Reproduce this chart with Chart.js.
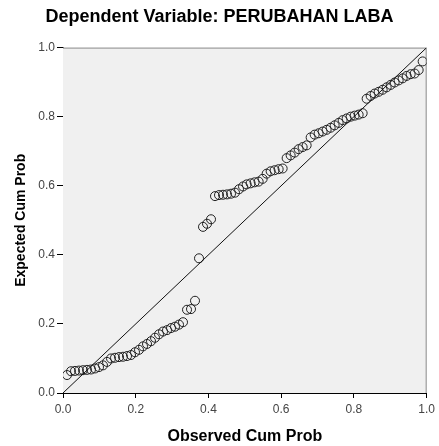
<!DOCTYPE html>
<html>
<head>
<meta charset="utf-8">
<script src="https://cdn.jsdelivr.net/npm/chart.js@4"></script>
<style>
  html, body { margin: 0; padding: 0; background: #fff; overflow: hidden; }
  canvas { display: block; }
</style>
</head>
<body>
<canvas id="chart_pp" width="439" height="446"></canvas>
<script>
// P-P plot values
const observedCum = [
  0.011, 0.022, 0.033, 0.044, 0.055, 0.066, 0.077, 0.088, 0.099, 0.110,
  0.121, 0.132, 0.143, 0.154, 0.165, 0.176, 0.187, 0.198, 0.209, 0.220,
  0.231, 0.242, 0.253, 0.264, 0.275, 0.286, 0.297, 0.308, 0.319, 0.330,
  0.341, 0.352, 0.363, 0.374, 0.385, 0.396, 0.407, 0.418, 0.429, 0.440,
  0.451, 0.462, 0.473, 0.484, 0.495, 0.505, 0.516, 0.527, 0.538, 0.549,
  0.560, 0.571, 0.582, 0.593, 0.604, 0.615, 0.626, 0.637, 0.648, 0.659,
  0.670, 0.681, 0.692, 0.703, 0.714, 0.725, 0.736, 0.747, 0.758, 0.769,
  0.780, 0.791, 0.802, 0.813, 0.824, 0.835, 0.846, 0.857, 0.868, 0.879,
  0.890, 0.901, 0.912, 0.923, 0.934, 0.945, 0.956, 0.967, 0.978, 0.989
];
const expectedCum = [
  0.052, 0.063, 0.064, 0.065, 0.066, 0.067, 0.068, 0.071, 0.075, 0.080,
  0.090, 0.100, 0.102, 0.104, 0.105, 0.107, 0.110, 0.118, 0.125, 0.135,
  0.142, 0.150, 0.160, 0.170, 0.178, 0.182, 0.188, 0.192, 0.198, 0.205,
  0.241, 0.243, 0.267, 0.390, 0.481, 0.490, 0.503, 0.570, 0.573, 0.574,
  0.575, 0.577, 0.580, 0.590, 0.598, 0.604, 0.607, 0.610, 0.612, 0.620,
  0.635, 0.642, 0.645, 0.648, 0.650, 0.680, 0.688, 0.696, 0.706, 0.712,
  0.717, 0.740, 0.748, 0.752, 0.757, 0.762, 0.768, 0.775, 0.782, 0.790,
  0.795, 0.800, 0.803, 0.806, 0.810, 0.852, 0.860, 0.867, 0.872, 0.878,
  0.885, 0.892, 0.899, 0.905, 0.911, 0.918, 0.923, 0.925, 0.935, 0.960
];
const refLine = [0, 1];
const tickValues = [0, 0.2, 0.4, 0.6, 0.8, 1.0];

// grey plot background and the light top/right frame
const plotFrame = {
  id: 'plotFrame',
  beforeDatasetsDraw(chart) {
    const a = chart.chartArea;
    const ctx = chart.ctx;
    ctx.save();
    ctx.fillStyle = '#f0f0f0';
    ctx.fillRect(a.left, a.top, a.right - a.left, a.bottom - a.top);
    ctx.strokeStyle = '#8c8c8c';
    ctx.lineWidth = 1;
    ctx.beginPath();
    ctx.moveTo(a.left, a.top + 0.5);
    ctx.lineTo(a.right - 0.5, a.top + 0.5);
    ctx.lineTo(a.right - 0.5, a.bottom);
    ctx.stroke();
    ctx.restore();
  }
};

const points = observedCum.map((x, i) => ({ x: x, y: expectedCum[i] }));

new Chart(document.getElementById('chart_pp'), {
  type: 'scatter',
  data: {
    datasets: [
      {
        type: 'line',
        data: refLine.map(v => ({ x: v, y: v })),
        borderColor: '#111',
        borderWidth: 1,
        pointRadius: 0,
        fill: false
      },
      {
        data: points,
        pointStyle: 'circle',
        pointRadius: 4.5,
        borderColor: '#222',
        borderWidth: 1,
        backgroundColor: 'rgba(0,0,0,0)'
      }
    ]
  },
  options: {
    responsive: false,
    animation: false,
    layout: { padding: { left: 0, right: 0, top: 0, bottom: 0 } },
    plugins: {
      legend: { display: false },
      tooltip: { enabled: false },
      title: {
        display: true,
        text: 'Dependent Variable: PERUBAHAN LABA',
        color: '#000',
        font: { family: 'Liberation Sans', size: 18, weight: 'bold', lineHeight: 1.2 },
        padding: { top: 6, bottom: 20 }
      }
    },
    scales: {
      x: {
        type: 'linear',
        min: 0,
        max: 1,
        afterFit: s => { s.height = 53; },
        afterBuildTicks: s => { s.ticks = tickValues.map(v => ({ value: v })); },
        grid: { display: true, drawOnChartArea: false, drawTicks: true, tickLength: 5, color: '#000' },
        border: { display: true, color: '#000' },
        ticks: {
          color: '#444',
          padding: 4,
          font: { family: 'Liberation Sans', size: 12 },
          callback: v => v.toFixed(1)
        },
        title: {
          display: true,
          text: 'Observed Cum Prob',
          color: '#000',
          font: { family: 'Liberation Sans', size: 16, weight: 'bold', lineHeight: 1.2 },
          padding: { top: 0, bottom: 0 }
        }
      },
      y: {
        type: 'linear',
        min: 0,
        max: 1,
        afterFit: s => { s.width = 63; },
        afterBuildTicks: s => { s.ticks = tickValues.map(v => ({ value: v })); },
        grid: { display: true, drawOnChartArea: false, drawTicks: true, tickLength: 6, color: '#000' },
        border: { display: true, color: '#000' },
        ticks: {
          color: '#444',
          padding: 2,
          font: { family: 'Liberation Sans', size: 12 },
          callback: v => v.toFixed(1)
        },
        title: {
          display: true,
          text: 'Expected Cum Prob',
          color: '#000',
          font: { family: 'Liberation Sans', size: 14, weight: 'bold', lineHeight: 1.2 },
          padding: { top: 13, bottom: 0 }
        }
      }
    }
  },
  plugins: [plotFrame]
});
</script>
</body>
</html>
